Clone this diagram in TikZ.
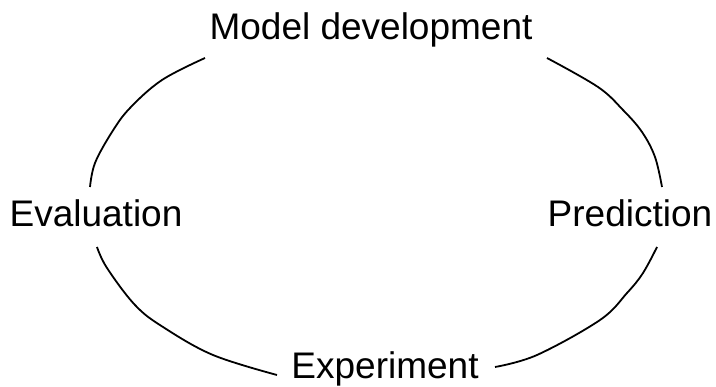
\documentclass[tikz,border=0pt]{standalone}
\usepackage{fontspec}
\setmainfont{Liberation Sans}
\usetikzlibrary{calc}

\begin{document}
\begin{tikzpicture}[x=1pt,y=-1pt,
    etapa/.style={anchor=base, font=\fontsize{37}{40}\selectfont},
    ciclo/.style={line width=1.8pt, line join=round}]
  % Marco
  \useasboundingbox (0,0) rectangle (716,387);

  % Etapas del ciclo
  \node[etapa] (modelo)    at (371,40)  {Model development};
  \node[etapa] (evaluacion) at (96,227) {Evaluation};
  \node[etapa] (prediccion) at (630,227) {Prediction};
  \node[etapa] (experimento) at (385,379) {Experiment};

  % Extremos de los arcos
  \coordinate (m1) at (205,58);
  \coordinate (m2) at (547,58);
  \coordinate (e1) at (90,187);
  \coordinate (e2) at (97,247);
  \coordinate (p1) at (662,187);
  \coordinate (p2) at (657,247);
  \coordinate (x1) at (277,375);
  \coordinate (x2) at (495,367);

  % Arcos de la elipse
  \draw[ciclo] plot[smooth,tension=0.6] coordinates
    {(m1) (162,80) (130,108) (112,132) (95,163) (e1)};
  \draw[ciclo] plot[smooth,tension=0.6] coordinates
    {(m2) (598,87) (623,110) (642,132) (655,157) (p1)};
  \draw[ciclo] plot[smooth,tension=0.6] coordinates
    {(e2) (107,268) (135,305) (163,327) (213,355) (x1)};
  \draw[ciclo] plot[smooth,tension=0.6] coordinates
    {(p2) (643,273) (627,293) (600,320) (537,355) (x2)};
\end{tikzpicture}
\end{document}
